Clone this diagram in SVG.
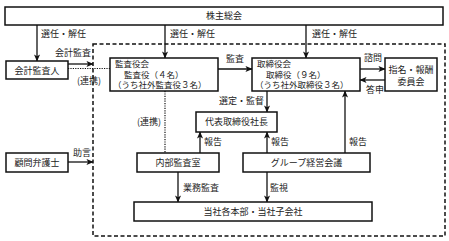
<svg xmlns="http://www.w3.org/2000/svg" width="449" height="241" viewBox="0 0 449 241">
<style>
.b{fill:#fff;stroke:#111;stroke-width:1.5}
.t{font-family:"Noto Sans CJK JP","Noto Sans CJK SC",sans-serif;font-size:9px;fill:#222}
.s{font-size:8.5px}
.m{text-anchor:middle}
.l{stroke:#111;stroke-width:1.3;fill:none}
.d{stroke:#111;stroke-width:1.2;fill:none;stroke-dasharray:1.2 1.2}
</style>
<defs>
<marker id="ah" viewBox="0 0 8 8" refX="7.5" refY="4" markerWidth="7" markerHeight="7" markerUnits="userSpaceOnUse" orient="auto">
<path d="M0,0.5 L8,4 L0,7.5 L2,4 Z" fill="#111"/>
</marker>
</defs>
<rect x="93" y="44" width="352" height="192" fill="none" stroke="#111" stroke-width="1.5" stroke-dasharray="4 2.5"/>
<g id="connectors">
<line class="l" x1="37" y1="25" x2="37" y2="61" marker-end="url(#ah)"/>
<line class="l" x1="165" y1="25" x2="165" y2="58" marker-end="url(#ah)"/>
<line class="l" x1="306" y1="25" x2="306" y2="58" marker-end="url(#ah)"/>
<line class="l" x1="68" y1="64" x2="93" y2="64" marker-end="url(#ah)"/>
<line class="d" x1="68" y1="68.5" x2="110" y2="68.5"/>
<line class="l" x1="218" y1="69" x2="252" y2="69" marker-end="url(#ah)"/>
<line class="l" x1="360" y1="69" x2="385" y2="69" marker-end="url(#ah)"/>
<line class="l" x1="385" y1="80" x2="360" y2="80" marker-end="url(#ah)"/>
<line class="l" x1="267" y1="91" x2="267" y2="112" marker-end="url(#ah)"/>
<line class="d" x1="165" y1="91" x2="165" y2="153"/>
<line class="l" x1="200" y1="153" x2="200" y2="132" marker-end="url(#ah)"/>
<line class="l" x1="267" y1="153" x2="267" y2="132" marker-end="url(#ah)"/>
<line class="l" x1="345" y1="153" x2="345" y2="91" marker-end="url(#ah)"/>
<line class="l" x1="178" y1="172" x2="178" y2="202" marker-end="url(#ah)"/>
<line class="l" x1="267" y1="172" x2="267" y2="202" marker-end="url(#ah)"/>
<line class="l" x1="68" y1="162" x2="93" y2="162" marker-end="url(#ah)"/>
<text class="t" x="41" y="37">選任・解任</text>
<text class="t" x="170" y="37">選任・解任</text>
<text class="t" x="312" y="37">選任・解任</text>
<text class="t" x="55" y="56">会計監査</text>
<text class="t" x="77" y="84">(連携)</text>
<text class="t" x="226" y="62">監査</text>
<text class="t" x="364" y="61">諮問</text>
<text class="t" x="366" y="93">答申</text>
<text class="t" x="219" y="104">選定・監督</text>
<text class="t" x="137" y="125">(連携)</text>
<text class="t" x="204" y="145">報告</text>
<text class="t" x="271" y="145">報告</text>
<text class="t" x="349" y="145">報告</text>
<text class="t" x="183" y="191">業務監査</text>
<text class="t" x="270" y="191">監視</text>
<text class="t" x="73" y="156">助言</text>
</g>
<g id="shareholders"><rect class="b" x="5" y="7" width="438" height="18"/><text class="t m" x="224" y="19">株主総会</text></g>
<g id="auditor"><rect class="b" x="6" y="61" width="62" height="18"/><text class="t m" x="37" y="73.5">会計監査人</text></g>
<g id="audit-board"><rect class="b" x="110" y="58" width="108" height="33"/>
<text class="t s" x="115" y="67">監査役会</text><text class="t s" x="124" y="77.5">監査役（４名）</text><text class="t s" x="113" y="88">（うち社外監査役３名）</text></g>
<g id="board"><rect class="b" x="252" y="58" width="108" height="33"/>
<text class="t s" x="257" y="67">取締役会</text><text class="t s" x="266" y="77.5">取締役（９名）</text><text class="t s" x="255" y="88">（うち社外取締役３名）</text></g>
<g id="committee"><rect class="b" x="385" y="58" width="52" height="33"/>
<text class="t m" x="411" y="73">指名・報酬</text><text class="t m" x="411" y="85">委員会</text></g>
<g id="president"><rect class="b" x="196" y="112" width="81" height="20"/><text class="t m" x="236.5" y="125">代表取締役社長</text></g>
<g id="internal-audit"><rect class="b" x="137" y="153" width="82" height="19"/><text class="t m" x="178" y="165.5">内部監査室</text></g>
<g id="group-meeting"><rect class="b" x="243" y="153" width="127" height="19"/><text class="t m" x="306.5" y="165.5">グループ経営会議</text></g>
<g id="divisions"><rect class="b" x="134" y="202" width="238" height="19"/><text class="t m" x="253" y="214.5">当社各本部・当社子会社</text></g>
<g id="lawyer"><rect class="b" x="6" y="153" width="62" height="19"/><text class="t m" x="37" y="165.5">顧問弁護士</text></g>
</svg>
